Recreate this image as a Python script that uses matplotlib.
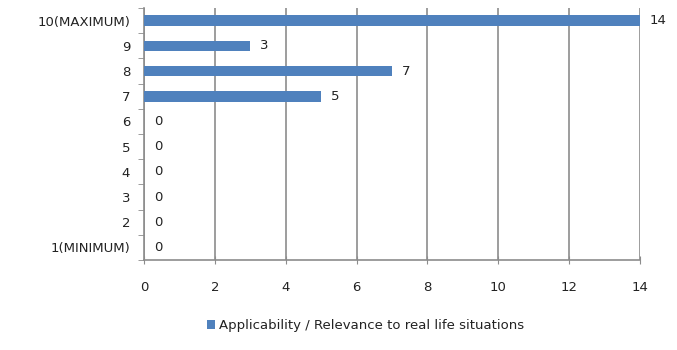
import numpy as np
import matplotlib.pyplot as plt

categories = ["1(MINIMUM)", "2", "3", "4", "5", "6", "7", "8", "9", "10(MAXIMUM)"]
values = [0, 0, 0, 0, 0, 0, 5, 7, 3, 14]
series_name = "Applicability / Relevance to real life situations"

bar_color = "#4F81BD"
grid_color = "#8C8C8C"
text_color = "#222222"

fig = plt.figure(figsize=(6.77, 3.5), dpi=100)
ax = fig.add_axes([0.2127, 0.257, 0.7326, 0.72])

y = np.arange(len(categories))
bars = ax.barh(y, values, height=0.42, color=bar_color, label=series_name, zorder=3)

# value labels at the end of each bar
for yi, v in zip(y, values):
    ax.annotate(str(v), (v, yi), xytext=(7, 0), textcoords="offset points",
                va="center", ha="left", fontsize=9.5, color=text_color)

ax.set_xlim(0, 14)
ax.set_ylim(-0.5, len(categories) - 0.5)
ax.set_xticks(np.arange(0, 15, 2))
ax.set_yticks(y)
ax.set_yticklabels(categories)
ax.set_yticks(np.arange(-0.5, len(categories), 1), minor=True)

ax.xaxis.grid(True, color=grid_color, linewidth=1.2, zorder=0)
ax.tick_params(axis="y", which="major", length=0, pad=10, labelsize=9.5, labelcolor=text_color)
ax.tick_params(axis="y", which="minor", length=4, color=grid_color)
ax.tick_params(axis="x", direction="inout", length=6, color=grid_color, pad=12,
               labelsize=9.5, labelcolor=text_color)

for side in ["top", "right"]:
    ax.spines[side].set_visible(False)
for side in ["left", "bottom"]:
    ax.spines[side].set_color(grid_color)
    ax.spines[side].set_linewidth(1.2)

fig.legend(handles=[bars], labels=[series_name], loc="center", bbox_to_anchor=(0.54, 0.07),
           frameon=False, fontsize=9.5, handlelength=0.6, handleheight=0.6, handletextpad=0.3,
           labelcolor=text_color)

fig.savefig("out.png", dpi=100)
